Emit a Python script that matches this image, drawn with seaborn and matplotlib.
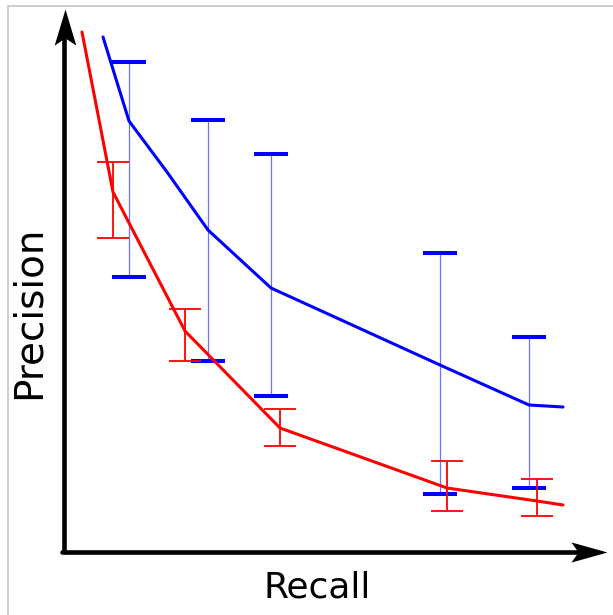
import matplotlib
matplotlib.use('Agg')
import matplotlib.pyplot as plt
from matplotlib.path import Path
from matplotlib.patches import Rectangle
import seaborn as sns

# red curve (precision vs recall), error bars on the inner points
red_recall = [0.036, 0.098, 0.242, 0.432, 0.766, 0.946, 0.998]
red_precision = [1.040, 0.720, 0.442, 0.248, 0.128, 0.102, 0.094]
red_err_idx = [1, 2, 3, 4, 5]
red_err_top = [0.780, 0.486, 0.286, 0.182, 0.146]
red_err_bottom = [0.628, 0.382, 0.212, 0.082, 0.072]

# blue curve
blue_recall = [0.078, 0.130, 0.206, 0.288, 0.414, 0.752, 0.930, 0.998]
blue_precision = [1.030, 0.862, 0.760, 0.644, 0.528, 0.374, 0.294, 0.290]
blue_err_idx = [1, 3, 4, 5, 6]
blue_err_top = [0.980, 0.864, 0.796, 0.598, 0.430]
blue_err_bottom = [0.550, 0.382, 0.312, 0.116, 0.128]

sns.set_style('white')

fig = plt.figure(figsize=(6.13, 6.15), dpi=100)
ax = fig.add_axes([0, 0, 1, 1])
ax.set_xlim(-0.128, 1.098)
ax.set_ylim(-0.126, 1.104)
ax.axis('off')

# thin grey frame around the picture
fig.patches.append(Rectangle((8 / 613, -0.1), 1.2, 1 - 6 / 615 + 0.1,
                             transform=fig.transFigure, fill=False,
                             edgecolor='#c4c4c4', linewidth=1.2))


def draw_errors(recall, precision, idx, top, bottom, color, ecolor, elw, capsize, capthick):
    xs = [recall[i] for i in idx]
    ys = [precision[i] for i in idx]
    lo = [y - b for y, b in zip(ys, bottom)]
    hi = [t - y for y, t in zip(ys, top)]
    cont = ax.errorbar(xs, ys, yerr=[lo, hi], fmt='none', ecolor=ecolor,
                       elinewidth=elw, capsize=capsize, capthick=capthick, zorder=2)
    for cap in cont[1]:
        cap.set_markeredgecolor(color)
        cap.set_markerfacecolor(color)


draw_errors(blue_recall, blue_precision, blue_err_idx, blue_err_top, blue_err_bottom,
            'blue', (0.3, 0.3, 1.0, 0.8), 0.9, 12.5, 2.9)
sns.lineplot(x=blue_recall, y=blue_precision, sort=False, color='blue',
             linewidth=2.2, ax=ax, zorder=3)

draw_errors(red_recall, red_precision, red_err_idx, red_err_top, red_err_bottom,
            'red', 'red', 1.3, 11.5, 1.3)
sns.lineplot(x=red_recall, y=red_precision, sort=False, color='red',
             linewidth=2.2, ax=ax, zorder=4)

# axes drawn as arrows
ax.plot([0, 0], [0, 1.05], color='black', linewidth=3.3, solid_capstyle='butt', zorder=5)
ax.plot([0, 1.06], [0, 0], color='black', linewidth=3.3, solid_capstyle='butt', zorder=5)
ax.plot([-0.005, 0], [0, 0], color='black', linewidth=3.3, zorder=5)
head_up = Path([(0, 0), (-0.3, -1), (0, -0.8), (0.3, -1), (0, 0)],
               [Path.MOVETO, Path.LINETO, Path.LINETO, Path.LINETO, Path.CLOSEPOLY])
head_right = Path([(0, 0), (-1, 0.28), (-0.8, 0), (-1, -0.28), (0, 0)],
                  [Path.MOVETO, Path.LINETO, Path.LINETO, Path.LINETO, Path.CLOSEPOLY])
ax.plot([0.002], [1.086], marker=head_up, markersize=52, color='black',
        markeredgewidth=0, zorder=6)
ax.plot([1.086], [0.0], marker=head_right, markersize=52, color='black',
        markeredgewidth=0, zorder=6)

fig.text(317 / 613, 1 - 597 / 615, 'Recall', ha='center', va='baseline',
         fontsize=26, color='black')
fig.text(48 / 613, 1 - 312 / 615, 'Precision', ha='right', va='center',
         rotation=90, fontsize=28, color='black')

fig.savefig('out.png', dpi=100)
